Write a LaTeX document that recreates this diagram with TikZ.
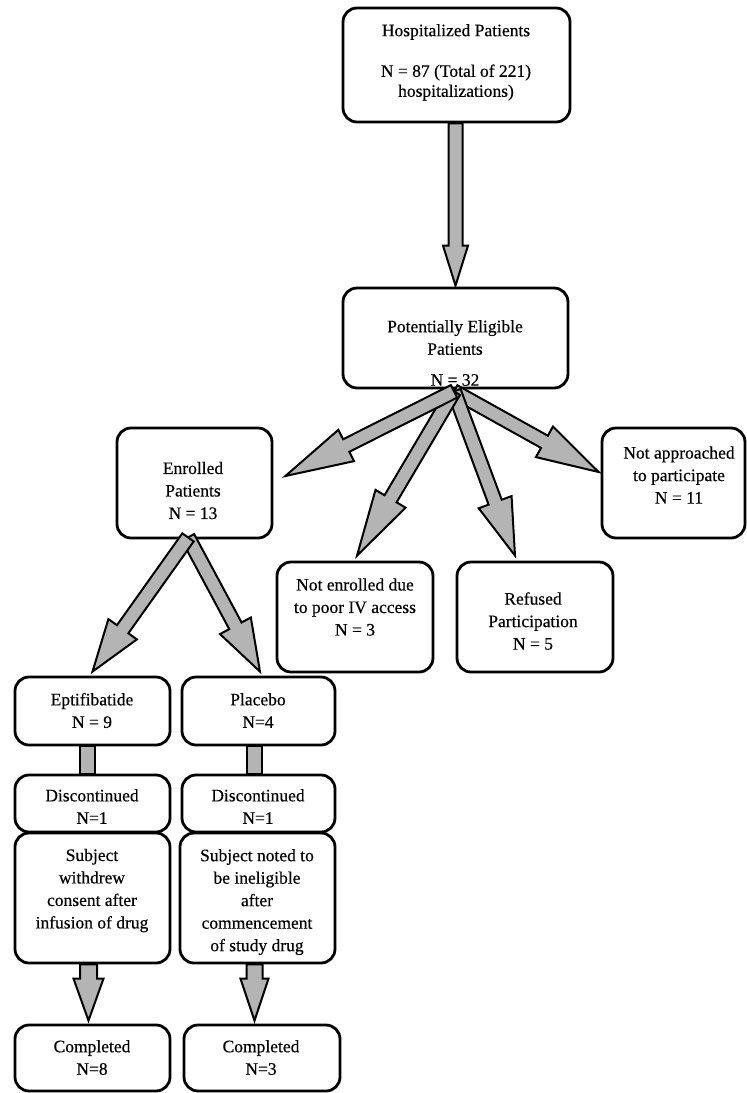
\documentclass[tikz,border=0pt]{standalone}
\usepackage{fontspec}
\setmainfont{Liberation Serif}
\usetikzlibrary{calc}
\definecolor{arrgray}{RGB}{180,180,180}
\tikzset{
  box/.style={draw=black, line width=2.8pt, rounded corners=14pt, fill=white, inner sep=0pt},
  txt/.style={align=center, inner sep=0pt, font=\fontsize{17.5pt}{22.5pt}\selectfont\addfontfeature{FakeBold=0.4}, text=black},
  arrowfill/.style={draw=black, line width=2pt, fill=arrgray, line join=miter},
}
\newcommand{\blockarr}[5]{%
  \coordinate (bh) at ($(#2)!#5!(#1)$);
  \draw[arrowfill] ($(#1)!#3!90:(#2)$) -- ($(bh)!#3!90:(#2)$) -- ($(bh)!#4!90:(#2)$) -- (#2)
     -- ($(bh)!#4!-90:(#2)$) -- ($(bh)!#3!-90:(#2)$) -- ($(#1)!#3!-90:(#2)$) -- cycle;
}
\begin{document}
\begin{tikzpicture}[x=1pt,y=-1pt]
\useasboundingbox (0,0) rectangle (747,1093);
% boxes
\node[box, minimum width=227pt, minimum height=114pt] (hosp) at (456.5,65) {};
\node[box, minimum width=225pt, minimum height=100pt] (elig) at (455.5,338) {};
\node[box, minimum width=155pt, minimum height=110pt] (enr) at (194.5,483) {};
\node[box, minimum width=143pt, minimum height=110pt] (notapp) at (673.5,483) {};
\node[box, minimum width=156pt, minimum height=110pt] (notenr) at (355,617) {};
\node[box, minimum width=156pt, minimum height=110pt] (refused) at (535,617) {};
\node[box, minimum width=155pt, minimum height=68pt] (epti) at (92.5,711) {};
\node[box, minimum width=153pt, minimum height=68pt] (plac) at (258.5,711) {};
\node[box, minimum width=155pt, minimum height=57pt] (disc1) at (92.5,803.5) {};
\node[box, minimum width=153pt, minimum height=57pt] (disc2) at (258.5,803.5) {};
\node[box, minimum width=155pt, minimum height=130pt] (subj1) at (92.5,898) {};
\node[box, minimum width=155pt, minimum height=130pt] (subj2) at (257.5,898) {};
\node[box, minimum width=155pt, minimum height=66pt] (comp1) at (92.5,1058) {};
\node[box, minimum width=156pt, minimum height=66pt] (comp2) at (262,1058) {};
% texts
\node[txt] (hospT1) at (456,32) {Hospitalized Patients};
\node[txt, font=\fontsize{17.5pt}{20pt}\selectfont\addfontfeature{FakeBold=0.4}] (hospT2) at (456,82.5) {N = 87 (Total of 221)\\hospitalizations)};
\node[txt] (eligT) at (455,337.5) {Potentially Eligible\\Patients};
\node[txt] (eligN) at (455,380) {N = 32};
\node[txt] (enrT) at (193,490.5) {Enrolled\\Patients\\N = 13};
\node[txt] (notappT) at (679,475) {Not approached\\to participate\\N = 11};
\node[txt] (notenrT) at (355,607) {Not enrolled due\\to poor IV access\\N = 3};
\node[txt] (refT) at (533,621) {Refused\\Participation\\N = 5};
\node[txt] (eptiT) at (92,710.5) {Eptifibatide\\N = 9};
\node[txt] (placT) at (258,710.5) {Placebo\\N=4};
\node[txt] (disc1T) at (92,806.5) {Discontinued\\N=1};
\node[txt] (disc2T) at (258,806.5) {Discontinued\\N=1};
\node[txt] (subj1T) at (92,890.5) {Subject\\withdrew\\consent after\\infusion of drug};
\node[txt] (subj2T) at (257,902) {Subject noted to\\be ineligible\\after\\commencement\\of study drug};
\node[txt] (comp1T) at (92,1057.5) {Completed\\N=8};
\node[txt] (comp2T) at (261,1057.5) {Completed\\N=3};
% coordinates for connectors
\coordinate (mstart) at (hosp.south -| elig.north);
\coordinate (mtip) at ($(elig.north)+(0,-1)$);
\coordinate (fan) at ($(elig.south)+(-1.5,2)$);
\coordinate (tenr) at ($(enr.east)+(12,-7)$);
\coordinate (tnotenr) at ($(notenr.north)+(2,-5)$);
\coordinate (tref) at ($(refused.north)+(-20,-5)$);
\coordinate (tnotapp) at ($(notapp.west)+(-2,-11)$);
\coordinate (estart) at ($(enr.south)+(-6.5,-2)$);
\coordinate (tepti) at ($(epti.north)+(0,-4)$);
\coordinate (tplac) at ($(plac.north)+(1.5,-4)$);
\coordinate (s1) at ($(subj1.south)+(-4,0)$);
\coordinate (t1) at ($(s1 |- comp1.north)+(0,-3)$);
\coordinate (s2) at ($(subj2.south)+(-3,0)$);
\coordinate (t2) at ($(s2 |- comp2.north)+(0,-3)$);
% connectors
\blockarr{mstart}{mtip}{7pt}{12.5pt}{40pt}
\blockarr{fan}{tnotapp}{7pt}{17.5pt}{62pt}
\blockarr{fan}{tref}{7pt}{17.5pt}{57pt}
\blockarr{fan}{tnotenr}{7pt}{17.5pt}{66pt}
\blockarr{fan}{tenr}{7pt}{17.5pt}{68pt}
\blockarr{estart}{tplac}{7pt}{17.5pt}{52pt}
\blockarr{estart}{tepti}{7pt}{17.5pt}{52pt}
\draw[arrowfill] ($(epti.south)+(-12.5,0)$) rectangle ($(disc1.north)+(2.5,0)$);
\draw[arrowfill] ($(plac.south)+(-11.5,0)$) rectangle ($(disc2.north)+(3.5,0)$);
\blockarr{s1}{t1}{8.5pt}{15pt}{42pt}
\blockarr{s2}{t2}{8pt}{14pt}{42pt}
\end{tikzpicture}
\end{document}
